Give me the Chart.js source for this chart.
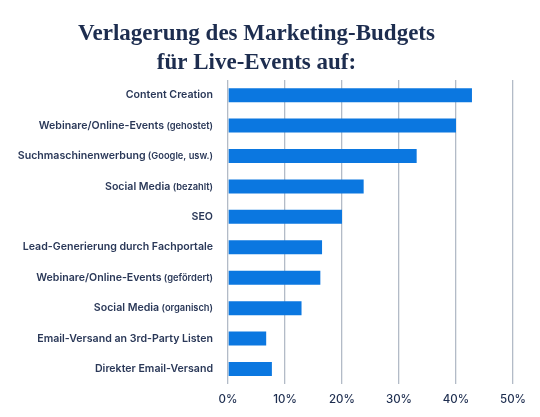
<!DOCTYPE html>
<html lang="de">
  <head>
    <meta charset="UTF-8" />
    <title>Verlagerung des Marketing-Budgets</title>
    <script src="https://cdn.jsdelivr.net/npm/chart.js"></script>
    <style>
      html, body { margin: 0; padding: 0; background: #ffffff; }
      #wrap { width: 540px; height: 417px; }
    </style>
  </head>
  <body>
    <div id="wrap"><canvas id="myChart"></canvas></div>
    <script>
      // Kategorien und Werte (in %)
      var kategorien = [
        "Content Creation",
        "Webinare/Online-Events (gehostet)",
        "Suchmaschinenwerbung (Google, usw.)",
        "Social Media (bezahlt)",
        "SEO",
        "Lead-Generierung durch Fachportale",
        "Webinare/Online-Events (gefördert)",
        "Social Media (organisch)",
        "Email-Versand an 3rd-Party Listen",
        "Direkter Email-Versand"
      ];
      var werte = [42.8, 40.0, 33.1, 23.8, 20.0, 16.5, 16.2, 12.9, 6.7, 7.7];
      var titelZeilen = ["Verlagerung des Marketing-Budgets", "für Live-Events auf:"];
      var xMax = 50;
      var xSchritt = 10;

      var navy = "#1d2d4f";
      var labelFarbe = "#2a3858";

      // Beschriftungen der Kategorien selbst zeichnen (Klammer-Teil kleiner)
      var kategorieLabels = {
        id: "kategorieLabels",
        afterDraw: function (chart) {
          var ctx = chart.ctx;
          var yScale = chart.scales.y;
          var rechts = chart.chartArea.left - 15;
          ctx.save();
          ctx.fillStyle = labelFarbe;
          ctx.textBaseline = "middle";
          ctx.textAlign = "left";
          kategorien.forEach(function (txt, i) {
            var y = yScale.getPixelForTick(i);
            var idx = txt.indexOf(" (");
            var haupt = idx >= 0 ? txt.slice(0, idx) : txt;
            var zusatz = idx >= 0 ? txt.slice(idx) : "";
            ctx.font = "600 10.6px Inter";
            var w1 = ctx.measureText(haupt).width;
            ctx.font = "600 9.3px Inter";
            var w2 = zusatz ? ctx.measureText(zusatz).width : 0;
            var x = rechts - w1 - w2;
            ctx.font = "600 10.6px Inter";
            ctx.fillText(haupt, x, y);
            if (zusatz) {
              ctx.font = "600 9.3px Inter";
              ctx.fillText(zusatz, x + w1, y + 0.5);
            }
          });
          ctx.restore();
        }
      };

      var grafica = new Chart(document.getElementById("myChart"), {
        type: "bar",
        data: {
          labels: kategorien,
          datasets: [
            {
              label: "Anteil",
              data: werte,
              backgroundColor: "#0b77e0",
              borderWidth: 0,
              barPercentage: 0.92,
              categoryPercentage: 0.5
            }
          ]
        },
        options: {
          indexAxis: "y",
          responsive: true,
          maintainAspectRatio: false,
          animation: false,
          layout: { padding: { left: 0, right: 27, top: 0, bottom: 3 } },
          plugins: {
            legend: { display: false },
            tooltip: { enabled: false },
            title: {
              display: true,
              text: titelZeilen,
              color: navy,
              font: { family: "Liberation Serif", size: 23, weight: "bold", lineHeight: 1.26 },
              padding: { top: 20, bottom: 2 }
            }
          },
          scales: {
            x: {
              min: 0,
              max: xMax,
              ticks: {
                stepSize: xSchritt,
                color: navy,
                padding: 8,
                font: { family: "Inter", size: 11.5, weight: "500" },
                callback: function (v) { return v + "%"; }
              },
              grid: { color: "#b3bbc7", lineWidth: 1.3, drawTicks: false },
              border: { display: false }
            },
            y: {
              ticks: { display: false },
              grid: { display: false },
              border: { display: false },
              afterFit: function (scale) { scale.width = 228; }
            }
          }
        },
        plugins: [kategorieLabels]
      });
    </script>
  </body>
</html>
